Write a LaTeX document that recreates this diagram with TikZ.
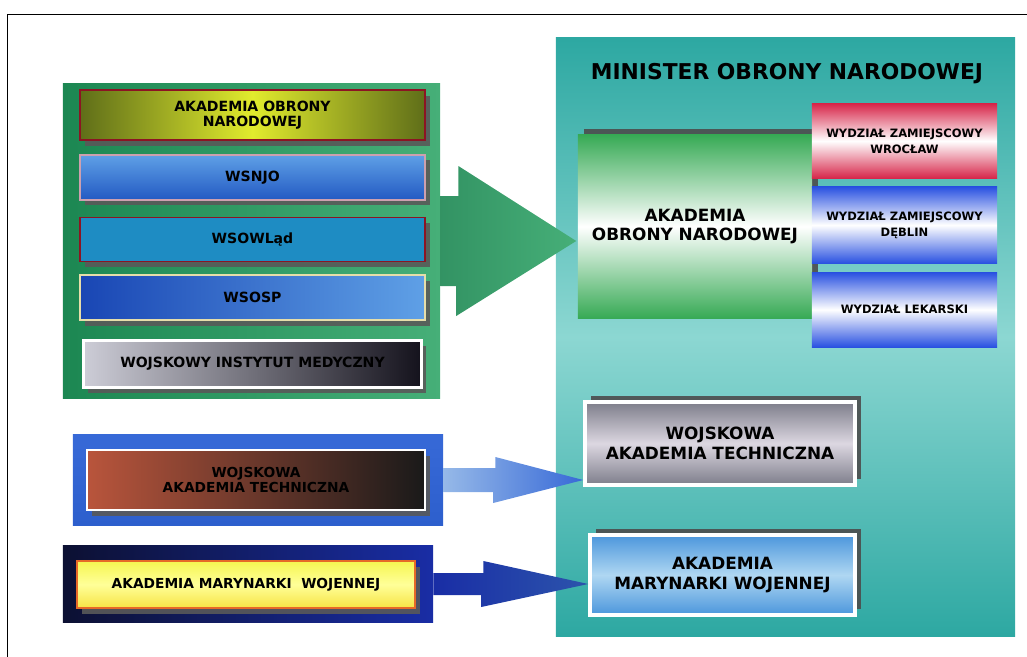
\documentclass[tikz,border=0pt]{standalone}
\usepackage{fontspec}
\setmainfont{DejaVu Sans}
\usepackage{xcolor}
\usepackage{tikz}
\usetikzlibrary{positioning,calc,shadows}

\definecolor{panelteal}{RGB}{45,168,162}
\definecolor{panellight}{RGB}{140,215,210}
\definecolor{panelgreen}{RGB}{28,135,82}
\definecolor{greenlight}{RGB}{70,175,120}
\definecolor{olivedark}{RGB}{95,110,25}
\definecolor{oliveyellow}{RGB}{225,235,45}
\definecolor{bordred}{RGB}{140,20,35}
\definecolor{borderpink}{RGB}{205,160,175}
\definecolor{bordercream}{RGB}{230,222,170}
\definecolor{skyblue}{RGB}{95,160,230}
\definecolor{midblue}{RGB}{35,90,195}
\definecolor{tealblue}{RGB}{30,140,195}
\definecolor{deepblue}{RGB}{25,70,180}
\definecolor{wimlight}{RGB}{205,205,215}
\definecolor{wimdark}{RGB}{20,18,28}
\definecolor{aongreen}{RGB}{55,170,85}
\definecolor{wrocred}{RGB}{215,40,75}
\definecolor{debblue}{RGB}{40,80,225}
\definecolor{watgray}{RGB}{125,125,138}
\definecolor{watlight}{RGB}{220,215,225}
\definecolor{amwblue}{RGB}{75,150,220}
\definecolor{amwlight}{RGB}{175,215,242}
\definecolor{framblue}{RGB}{45,95,205}
\definecolor{brownred}{RGB}{185,85,60}
\definecolor{navy}{RGB}{12,16,50}
\definecolor{amwyellow}{RGB}{245,245,80}
\definecolor{amworange}{RGB}{230,105,40}
\definecolor{arrowblue}{RGB}{55,105,215}
\definecolor{arrowpale}{RGB}{150,185,232}
\definecolor{arrowdark}{RGB}{25,45,165}

\begin{document}
\begin{tikzpicture}[
  x=0.025cm, y=-0.025cm,
  lbox/.style={rectangle, draw, line width=1.2pt, inner sep=0pt, minimum width=8.625cm, align=center,
    font=\bfseries\fontsize{10}{11}\selectfont,
    drop shadow={shadow xshift=3.5pt, shadow yshift=-4pt, fill=black!65, opacity=0.9}},
  rbox/.style={rectangle, draw=white, line width=2.5pt, inner sep=0pt, align=center,
    font=\bfseries\fontsize{12}{14}\selectfont,
    drop shadow={shadow xshift=4pt, shadow yshift=4.5pt, fill=black!70, opacity=0.9}},
  wydz/.style={rectangle, inner sep=0pt, minimum width=4.625cm, align=center,
    font=\bfseries\fontsize{8.2}{11.5}\selectfont},
  wydzred/.style={wydz, top color=wrocred, bottom color=wrocred, middle color=white},
  wydzblue/.style={wydz, top color=debblue, bottom color=debblue, middle color=white},
  framebox/.style={rectangle, inner sep=0pt, minimum width=9.25cm}
]
\useasboundingbox (0,0) rectangle (1027,657);
\draw[line width=0.6pt] (7,657) -- (7,14) -- (1027,14);

% Right: minister panel
\node[framebox, minimum width=11.475cm, minimum height=14.95cm,
  top color=panelteal, bottom color=panelteal, middle color=panellight] (minpanel) at (785.5,337) {};
\node[font=\bfseries\fontsize{15.5}{17}\selectfont] (minister) at (787,74) {MINISTER OBRONY NARODOWEJ};

% Left: schools before merging
\node[framebox, minimum width=9.425cm, minimum height=7.85cm,
  left color=panelgreen, right color=greenlight] (leftpanel) at (251.5,241) {};
\node[lbox, draw=bordred, minimum height=1.25cm,
  left color=olivedark, right color=olivedark, middle color=oliveyellow] (aonl) at (252.5,115) {AKADEMIA OBRONY\\NARODOWEJ};
\node[lbox, draw=borderpink, minimum height=1.125cm,
  top color=skyblue, bottom color=midblue, below=0.325cm of aonl] (wsnjo) {WSNJO};
\node[lbox, draw=bordred, minimum height=1.1cm,
  fill=tealblue, below=0.4cm of wsnjo] (wsowlad) {WSOWLąd};
\node[lbox, draw=bordercream, minimum height=1.125cm,
  left color=deepblue, right color=skyblue, below=0.3cm of wsowlad] (wsosp) {WSOSP};
\node[lbox, draw=white, line width=2pt, minimum width=8.45cm, minimum height=1.175cm,
  left color=wimlight, right color=wimdark, below=0.45cm of wsosp] (wim) {WOJSKOWY INSTYTUT MEDYCZNY};

% Right: new academy and its faculties
\node[rbox, draw=none, minimum width=5.85cm, minimum height=4.575cm,
  top color=aongreen, bottom color=aongreen, middle color=white] (aonr) at (695,226.5) {AKADEMIA\\OBRONY NARODOWEJ};
\node[wydzred, minimum height=1.85cm] (wroclaw) at (904.5,141) {WYDZIAŁ ZAMIEJSCOWY\\WROCŁAW};
\node[wydzblue, minimum height=1.925cm, below=0.2cm of wroclaw] (deblin) {WYDZIAŁ ZAMIEJSCOWY\\DĘBLIN};
\node[wydzblue, minimum height=1.875cm, below=0.2cm of deblin] (lekarski) {WYDZIAŁ LEKARSKI};

\node[rbox, minimum width=6.75cm, minimum height=2.075cm,
  top color=watgray, bottom color=watgray, middle color=watlight] (watr) at (720,443.5) {WOJSKOWA\\AKADEMIA TECHNICZNA};
\node[rbox, minimum width=6.625cm, minimum height=2cm,
  top color=amwblue, bottom color=amwblue, middle color=amwlight] (amwr) at (722.5,575) {AKADEMIA\\MARYNARKI WOJENNEJ};

% Left: academies kept
\node[framebox, minimum height=2.25cm, top color=arrowblue, bottom color=framblue] (watl) at (258,480) {};
\node[lbox, draw=white, line width=2pt, minimum width=8.45cm, minimum height=1.5cm,
  left color=brownred, right color=black!90, font=\bfseries\fontsize{9.8}{11}\selectfont] (watlin) at (256,480) {WOJSKOWA\\AKADEMIA TECHNICZNA};
\node[framebox, minimum height=1.9cm, left color=navy, right color=arrowdark] (amwl) at (248,584) {};
\node[lbox, draw=amworange, line width=1.5pt, minimum width=8.45cm, minimum height=1.175cm,
  top color=amwyellow, bottom color=amwyellow!85!orange, middle color=yellow!40,
  font=\bfseries\fontsize{9.8}{11}\selectfont] (amwlin) at (246,584.5) {AKADEMIA MARYNARKI\ \ WOJENNEJ};

% Arrows
\shade[left color=panelgreen!90, right color=greenlight]
  ($(leftpanel.east)+(0,-45)$) -- ++(18,0) -- ++(0,-30) -- (aonr.west |- leftpanel.east)
  -- ++(-120,75) -- ++(0,-30) -- ($(leftpanel.east)+(0,45)$) -- cycle;
\shade[left color=arrowpale, right color=arrowblue]
  ($(watl.east)+(0,-12)$) -- ++(52,0) -- ++(0,-11) -- (watr.west |- watl.east)
  -- ++(-90,23) -- ++(0,-11) -- ($(watl.east)+(0,12)$) -- cycle;
\shade[left color=arrowdark, right color=arrowblue!80!black]
  ($(amwl.east)+(0,-11)$) -- ++(50,0) -- ++(0,-12) -- (amwr.west |- amwl.east)
  -- ++(-107,23) -- ++(0,-12) -- ($(amwl.east)+(0,11)$) -- cycle;
\end{tikzpicture}
\end{document}
